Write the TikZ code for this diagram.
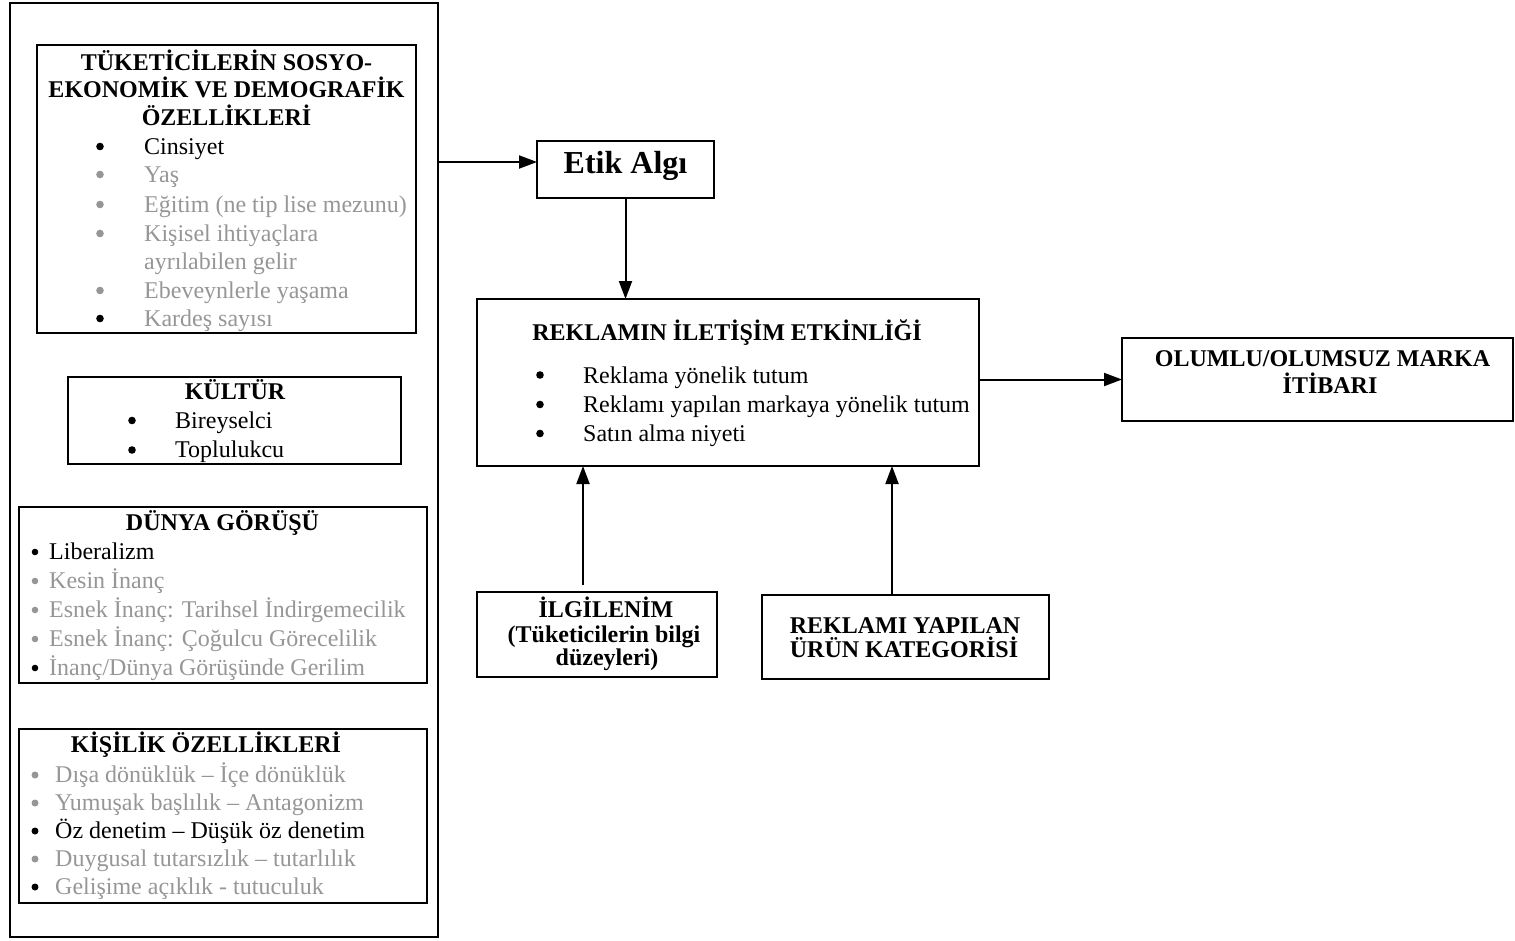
\documentclass[tikz,border=0pt]{standalone}
\usepackage{fontspec}
\setmainfont{Liberation Serif}
\usetikzlibrary{arrows.meta}
\definecolor{fade}{RGB}{150,150,150}
\begin{document}
\begin{tikzpicture}[x=1pt,y=-1pt,
  frame/.style={draw, line width=2.8pt, inner sep=0pt, outer sep=0pt},
  link/.style={line width=2pt, -{Triangle[length=18pt,width=13pt]}},
  body/.style={inner sep=0pt, font=\fontsize{24}{29}\selectfont},
  item/.style={body, anchor=base west},
  head/.style={inner sep=0pt, anchor=base, font=\fontsize{24}{29}\selectfont\bfseries},
  dim/.style={text=fade}
]
\useasboundingbox (0,0) rectangle (1515,940);

% ---------- boxes ----------
\node[frame, line width=2.2pt, minimum width=428pt, minimum height=934pt] (outer) at (224,470) {};
\node[frame, minimum width=379pt, minimum height=288pt] (socio) at (226.5,189) {};
\node[frame, minimum width=333pt, minimum height=87pt]  (kultur) at (234.5,420.5) {};
\node[frame, minimum width=408pt, minimum height=176pt] (dunya) at (223,595) {};
\node[frame, minimum width=408pt, minimum height=174pt] (kisilik) at (223,816) {};
\node[frame, minimum width=177pt, minimum height=57pt]  (etik) at (625.5,169.5) {};
\node[frame, minimum width=502pt, minimum height=167pt] (main) at (728,382.5) {};
\node[frame, minimum width=391pt, minimum height=83pt]  (out) at (1317.5,379.5) {};
\node[frame, minimum width=240pt, minimum height=85pt]  (ilg) at (597,634.5) {};
\node[frame, minimum width=287pt, minimum height=84pt]  (kat) at (905.5,637) {};

% ---------- socio-economic and demographic box ----------
\node[head] (s1) at (226.5,70)  {TÜKETİCİLERİN SOSYO-};
\node[head] (s2) at (226.5,97)  {EKONOMİK VE DEMOGRAFİK};
\node[head] (s3) at (226.5,125) {ÖZELLİKLERİ};
\node[item] (a1) at (144,154) {Cinsiyet};
\node[item, dim] (a2) at (144,182) {Yaş};
\node[item, dim] (a3) at (144,212) {Eğitim (ne tip lise mezunu)};
\node[item, dim] (a4) at (144,241) {Kişisel ihtiyaçlara};
\node[item, dim] (a5) at (144,269) {ayrılabilen gelir};
\node[item, dim] (a6) at (144,298) {Ebeveynlerle yaşama};
\node[item, dim] (a7) at (144,326) {Kardeş sayısı};
\fill (100,146.5) circle (3.8);
\fill[fade] (100,174.5) circle (3.8);
\fill[fade] (100,204.5) circle (3.8);
\fill[fade] (100,233.5) circle (3.8);
\fill[fade] (100,290.5) circle (3.8);
\fill (100,318.5) circle (3.8);

% ---------- culture box ----------
\node[head] (k0) at (235,399) {KÜLTÜR};
\node[item] (k1) at (175,428) {Bireyselci};
\node[item] (k2) at (175,457.5) {Toplulukcu};
\fill (132,420.5) circle (3.8);
\fill (132,450) circle (3.8);

% ---------- world view box ----------
\node[head] (d0) at (222.5,530) {DÜNYA GÖRÜŞÜ};
\node[item] (d1) at (49,559) {Liberalizm};
\node[item, dim] (d2) at (49,588) {Kesin İnanç};
\node[item, dim] (d3) at (49,617) {Esnek İnanç: Tarihsel İndirgemecilik};
\node[item, dim] (d4) at (49,646) {Esnek İnanç: Çoğulcu Görecelilik};
\node[item, dim] (d5) at (49,675) {İnanç/Dünya Görüşünde Gerilim};
\fill (35,552) circle (3.3);
\fill[fade] (35,581) circle (3.3);
\fill[fade] (35,610) circle (3.3);
\fill[fade] (35,639) circle (3.3);
\fill (35,668) circle (3.3);

% ---------- personality box ----------
\node[head] (p0) at (206,752) {KİŞİLİK ÖZELLİKLERİ};
\node[item, dim] (p1) at (55,782) {Dışa dönüklük – İçe dönüklük};
\node[item, dim] (p2) at (55,810) {Yumuşak başlılık – Antagonizm};
\node[item] (p3) at (55,838) {Öz denetim – Düşük öz denetim};
\node[item, dim] (p4) at (55,866) {Duygusal tutarsızlık – tutarlılık};
\node[item, dim] (p5) at (55,894) {Gelişime açıklık - tutuculuk};
\fill[fade] (35,775) circle (3.5);
\fill[fade] (35,803) circle (3.5);
\fill (35,831) circle (3.5);
\fill[fade] (35,859) circle (3.5);
\fill (35,887) circle (3.5);

% ---------- right-hand boxes ----------
\node[inner sep=0pt, anchor=base, font=\fontsize{32}{38}\selectfont\bfseries] (e0) at (625.5,173) {Etik Algı};

\node[head] (m0) at (727,340) {REKLAMIN İLETİŞİM ETKİNLİĞİ};
\node[item] (m1) at (583,383) {Reklama yönelik tutum};
\node[item] (m2) at (583,412) {Reklamı yapılan markaya yönelik tutum};
\node[item] (m3) at (583,441) {Satın alma niyeti};
\fill (540,375) circle (3.8);
\fill (540,404.5) circle (3.8);
\fill (540,433.5) circle (3.8);

\node[head] (o1) at (1322.5,366) {OLUMLU/OLUMSUZ MARKA};
\node[head] (o2) at (1330,393) {İTİBARI};

\node[head] (i1) at (606,617) {İLGİLENİM};
\node[head] (i2) at (604,642) {(Tüketicilerin bilgi};
\node[head] (i3) at (607,665) {düzeyleri)};

\node[head] (r1) at (905,633) {REKLAMI YAPILAN};
\node[head] (r2) at (904,657) {ÜRÜN KATEGORİSİ};

% ---------- connectors ----------
\coordinate (etikin) at ([yshift=7.5pt]etik.west);
\draw[link] (outer.east |- etikin) -- (etikin);
\draw[link] (etik.south) -- (etik.south |- main.north);
\draw[link] (main.east |- out.west) -- (out.west);
\coordinate (ilgtop) at ([xshift=-14pt,yshift=7pt]ilg.north);
\draw[link] (ilgtop) -- (ilgtop |- main.south);
\coordinate (kattop) at ([xshift=-13.5pt]kat.north);
\draw[link] (kattop) -- (kattop |- main.south);
\end{tikzpicture}
\end{document}
